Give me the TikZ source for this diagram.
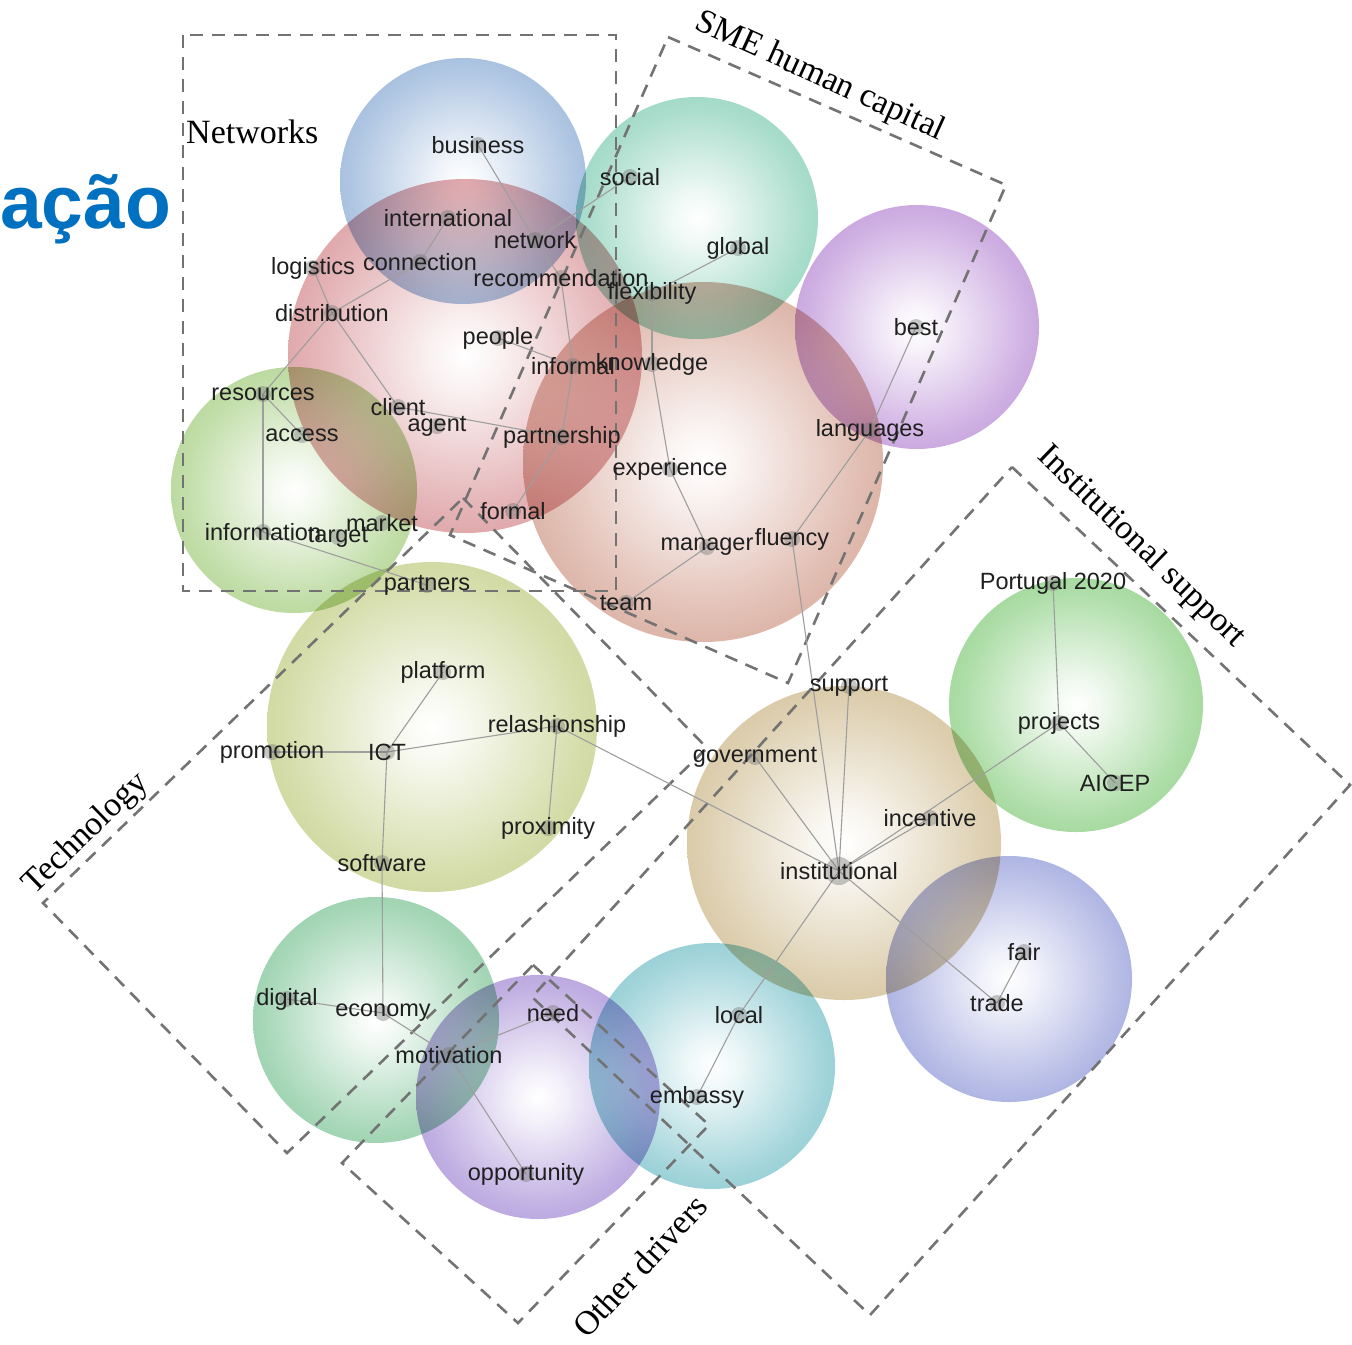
\documentclass[tikz,border=0pt]{standalone}
\usepackage{fontspec}
\setmainfont{Liberation Serif}
\newfontfamily\wordfont{Liberation Sans}
\definecolor{cBusiness}{RGB}{115,155,205}
\definecolor{cNet}{RGB}{205,115,120}
\definecolor{cSocial}{RGB}{105,195,165}
\definecolor{cBest}{RGB}{170,115,205}
\definecolor{cKnow}{RGB}{200,135,115}
\definecolor{cRes}{RGB}{145,195,100}
\definecolor{cICT}{RGB}{180,195,105}
\definecolor{cInst}{RGB}{195,170,115}
\definecolor{cProj}{RGB}{110,195,100}
\definecolor{cFair}{RGB}{125,135,210}
\definecolor{cDigital}{RGB}{100,185,130}
\definecolor{cNeed}{RGB}{145,115,205}
\definecolor{cLocal}{RGB}{90,180,190}
\definecolor{cTitle}{RGB}{0,112,192}
\colorlet{ballc}{red}
\pgfdeclareradialshading[ballc]{ball}{\pgfpoint{0bp}{0bp}}{color(0bp)=(white); color(5bp)=(white!90!ballc); color(22bp)=(white!45!ballc); color(38bp)=(white!12!ballc); color(50bp)=(ballc)}
\newcommand\ball[4]{\colorlet{ballc}{#4}\shade[shading=ball, blend mode=multiply] (#1,#2) circle[radius=#3];}
\pgfdeclarelayer{bubbles}
\pgfdeclarelayer{links}
\pgfsetlayers{bubbles,links,main}
\begin{document}
\begin{tikzpicture}[x=1pt,y=-1pt,
  word/.style={font=\wordfont\fontsize{23.5}{26}\selectfont, text=black!88, inner sep=0pt},
  lbl/.style={font=\fontsize{34}{38}\selectfont, inner sep=0pt},
  link/.style={draw=black!38, line width=1.1pt},
  dot/.style={fill=black!55, fill opacity=0.4},
  group/.style={draw=black!55, line width=2.6pt, dash pattern=on 13pt off 9pt},
]
\useasboundingbox (0,0) rectangle (1352,1344);

% words
\node[word] (business) at (478,145) {business};
\node[word] (social) at (630,177) {social};
\node[word] (international) at (448,218) {international};
\node[word] (network) at (535,240) {network};
\node[word] (global) at (738,248) {global};
\node[word] (logistics) at (313,268) {logistics};
\node[word] (connection) at (420,262) {connection};
\node[word] (recommendation) at (561,278) {recommendation};
\node[word] (flexibility) at (652,293) {flexibility};
\node[word] (distribution) at (332,313) {distribution};
\node[word] (best) at (916,327) {best};
\node[word] (people) at (498,338) {people};
\node[word] (informal) at (573,366) {informal};
\node[word] (knowledge) at (652,364) {knowledge};
\node[word] (resources) at (263,394) {resources};
\node[word] (client) at (398,407) {client};
\node[word] (agent) at (437,426) {agent};
\node[word] (access) at (302,435) {access};
\node[word] (languages) at (870,430) {languages};
\node[word] (partnership) at (562,437) {partnership};
\node[word] (experience) at (670,469) {experience};
\node[word] (formal) at (513,511) {formal};
\node[word] (information) at (263,532) {information};
\node[word] (market) at (382,523) {market};
\node[word] (target) at (338,537) {target};
\node[word] (manager) at (707,547) {manager};
\node[word] (fluency) at (792,539) {fluency};
\node[word] (partners) at (427,585) {partners};
\node[word] (team) at (626,603) {team};
\node[word] (portugal) at (1053,583) {Portugal 2020};
\node[word] (platform) at (443,672) {platform};
\node[word] (support) at (849,686) {support};
\node[word] (relashionship) at (557,726) {relashionship};
\node[word] (projects) at (1059,723) {projects};
\node[word] (promotion) at (272,752) {promotion};
\node[word] (ICT) at (387,752) {ICT};
\node[word] (government) at (755,757) {government};
\node[word] (AICEP) at (1115,783) {AICEP};
\node[word] (incentive) at (930,818) {incentive};
\node[word] (proximity) at (548,828) {proximity};
\node[word] (software) at (382,863) {software};
\node[word] (institutional) at (839,871) {institutional};
\node[word] (fair) at (1024,952) {fair};
\node[word] (digital) at (287,999) {digital};
\node[word] (trade) at (997,1003) {trade};
\node[word] (economy) at (383,1013) {economy};
\node[word] (need) at (553,1013) {need};
\node[word] (local) at (739,1015) {local};
\node[word] (motivation) at (449,1055) {motivation};
\node[word] (embassy) at (697,1097) {embassy};
\node[word] (opportunity) at (526,1174) {opportunity};

% group labels
\node[lbl, anchor=west] (lNet) at (186,132) {Networks};
\node[lbl, rotate=-24.5] (lSME) at (820,77) {SME human capital};
\node[lbl, rotate=-44] (lInst) at (1141,547) {Institutional support};
\node[lbl, rotate=44] (lTech) at (86,834) {Technology};
\node[lbl, rotate=47] (lOther) at (640,1266) {Other drivers};

% cut-off title
\node[font=\wordfont\bfseries\fontsize{75}{80}\selectfont, text=cTitle, inner sep=0pt, anchor=base west] (title) at (0,228) {ação};

\begin{pgfonlayer}{bubbles}
\fill[white] (0,0) rectangle (1352,1344);
\ball{463}{181}{123}{cBusiness}
\ball{465}{356}{177}{cNet}
\ball{697}{218}{121}{cSocial}
\ball{917}{327}{122}{cBest}
\ball{703}{462}{180}{cKnow}
\ball{294}{490}{123}{cRes}
\ball{432}{727}{165}{cICT}
\ball{844}{843}{157}{cInst}
\ball{1076}{705}{127}{cProj}
\ball{1009}{979}{123}{cFair}
\ball{376}{1020}{123}{cDigital}
\ball{538}{1097}{122}{cNeed}
\ball{712}{1066}{123}{cLocal}
% group frames
\draw[group] (183,35) rectangle (616,591);
\draw[group] (668,37) -- (1006,185) -- (788,683) -- (450,535) -- cycle;
\draw[group] (463,498) -- (707,748) -- (287,1153) -- (43,903) -- cycle;
\draw[group] (533,965) -- (709,1125) -- (518,1323) -- (342,1163) -- cycle;
\draw[group] (1012,467) -- (1350,785) -- (870,1315) -- (532,997) -- cycle;
\end{pgfonlayer}

\begin{pgfonlayer}{links}
\foreach \a/\b in {business/network, network/recommendation, network/social,
  international/connection, connection/distribution, logistics/distribution,
  distribution/client, distribution/resources, resources/access,
  resources/information, information/partners, client/partnership,
  people/informal, recommendation/informal, informal/partnership,
  partnership/formal, global/flexibility, flexibility/knowledge,
  knowledge/experience, experience/manager, manager/team,
  fluency/languages, languages/best, fluency/institutional,
  support/institutional, government/institutional, relashionship/institutional,
  incentive/institutional, projects/institutional, portugal/projects,
  projects/AICEP, institutional/trade, trade/fair, institutional/local,
  local/embassy, ICT/platform, ICT/promotion, ICT/relashionship,
  ICT/software, software/economy, relashionship/proximity, digital/economy,
  economy/motivation, motivation/need, motivation/opportunity}
  \draw[link] (\a.center) -- (\b.center);
\foreach \n in {business, social, international, network, global, logistics,
  connection, recommendation, flexibility, distribution, best, people, informal,
  knowledge, resources, client, agent, access, languages, partnership,
  experience, formal, information, market, target, manager, fluency, partners,
  team, portugal, platform, support, relashionship, projects, promotion, ICT,
  government, AICEP, incentive, proximity, software, fair, digital, trade,
  economy, need, local, motivation, embassy, opportunity}
  \fill[dot] (\n.center) circle[radius=8];
\fill[dot] (institutional.center) circle[radius=14];
\end{pgfonlayer}
\end{tikzpicture}
\end{document}
